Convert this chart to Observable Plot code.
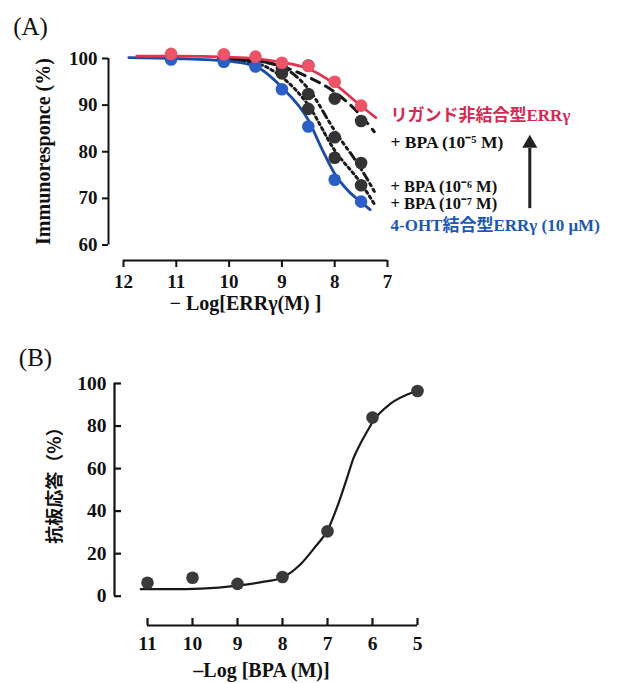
<!DOCTYPE html>
<html><head><meta charset="utf-8">
<script src="https://cdn.jsdelivr.net/npm/d3@7"></script>
<script src="https://cdn.jsdelivr.net/npm/@observablehq/plot@0.6"></script>
<style>
html,body{margin:0;padding:0;background:#fff;}
#wrap{position:relative;width:623px;height:683px;overflow:hidden;background:#fff;}
#a,#b{position:absolute;left:0;}
#a{top:0;} #b{top:330px;}
</style></head><body><div id="wrap"><div id="a"></div><div id="b"></div></div>
<script>
// ---------- Panel A data ----------
const aTicksX = [12, 11, 10, 9, 8, 7];
const aTicksY = [60, 70, 80, 90, 100];
const aDoseX = [11.1, 10.1, 9.5, 9.0, 8.5, 8.0, 7.5];
const aFreeY = [101.0, 100.9, 100.4, 99.1, 98.4, 95.0, 89.9];
const aOhtY = [99.8, 99.3, 98.3, 93.4, 85.4, 74.0, 69.3];
const aBpaX = [9.0, 8.5, 8.0, 7.5];
const aBpa5Y = [98.0, 98.5, 91.4, 86.6];
const aBpa6Y = [97.3, 92.4, 83.1, 77.6];
const aBpa7Y = [96.8, 89.2, 78.7, 72.8];
// fitted curves
const fitFreeX = [11.75, 11, 10, 9.5, 9, 8.5, 8, 7.5, 7.22];
const fitFreeY = [100.5, 100.5, 100.3, 100.0, 99.2, 97.8, 94.5, 89.8, 87.3];
const fitOhtX = [11.9, 11, 10, 9.5, 9, 8.5, 8.25, 8, 7.75, 7.5, 7.33];
const fitOhtY = [100.2, 100.0, 99.4, 98.3, 93.8, 86.8, 80.8, 75.3, 71.7, 69.2, 67.6];
const fitBpaX = [10.2, 9.5, 9, 8.5, 8, 7.5, 7.25];
const fitBpa5Y = [99.9, 99.5, 98.3, 96.0, 92.8, 87.7, 84.3];
const fitBpa6Y = [99.9, 99.5, 98.2, 93.5, 84.5, 76.3, 71.5];
const fitBpa7Y = [99.8, 99.0, 96.0, 90.0, 80.3, 73.2, 68.8];
const aLabels = ["リガンド非結合型ERRγ", "+ BPA (10⁻⁵ M)", "+ BPA (10⁻⁶ M)", "+ BPA (10⁻⁷ M)", "4-OHT結合型ERRγ (10 μM)"];
const aTitleX = "− Log[ERRγ(M) ]";
const aTitleY = "Immunoresponce (%)";

// ---------- Panel B data ----------
const bTicksX = [11, 10, 9, 8, 7, 6, 5];
const bTicksY = [0, 20, 40, 60, 80, 100];
const bDoseX = [11, 10, 9, 8, 7, 6, 5];
const bRespY = [6.3, 8.7, 5.8, 9.0, 30.5, 84.0, 96.5];
const bFitX = [11.15, 10.5, 9.8, 9, 8.5, 8, 7.6, 7.3, 7, 6.75, 6.56, 6.42, 6.25, 6.11, 5.98, 5.6, 5.1];
const bFitY = [3.3, 3.3, 3.6, 5.0, 6.5, 8.8, 15, 22.5, 31, 44, 56, 65, 72.5, 77.8, 82.5, 90.5, 95.9];
const bTitleX = "–Log [BPA (M)]";
const bTitleY = "抗板応答（%）";

const serif = '"Liberation Serif", "Times New Roman", "Noto Sans CJK JP", serif';
const zip = (xs, ys) => xs.map((x, i) => ({x, y: ys[i]}));

const RED_LINE = "#e3324f", RED_DOT = "#ee5468", RED_TEXT = "#d42a55";
const BLUE_LINE = "#1c4ba8", BLUE_DOT = "#2c5fc6", BLUE_TEXT = "#1d58b3";
const BLACK_DOT = "#333333";

const labelColors = [RED_TEXT, "#111", "#111", "#111", BLUE_TEXT];
const labelDy = [57, 83.7, 128, 145, 167];
const labelSize = [17, 17.5, 16.5, 16.5, 17];

const plotA = Plot.plot({
  width: 623, height: 330,
  marginLeft: 108, marginRight: 236, marginTop: 58, marginBottom: 70,
  style: {fontFamily: serif, background: "white", overflow: "visible", color: "#111"},
  x: {domain: [12, 7], insetLeft: 15},
  y: {domain: [60, 100], insetBottom: 15.5},
  marks: [
    Plot.ruleX([12], {y1: 60, y2: 100, dx: -15, strokeWidth: 2}),
    Plot.axisY({ticks: aTicksY, tickFormat: "d", tickSize: 6, tickPadding: 5, fontSize: 19, fontWeight: "bold", label: null, strokeWidth: 2}),
    Plot.ruleY([60], {x1: 12, x2: 7, dy: 15.5, strokeWidth: 2}),
    Plot.axisX({ticks: aTicksX, tickFormat: "d", tickSize: 7, tickPadding: 7, fontSize: 19, fontWeight: "bold", label: null, strokeWidth: 2}),
    // fits
    Plot.line(zip(fitBpaX, fitBpa5Y), {x: "x", y: "y", curve: "monotone-x", stroke: "#1a1a1a", strokeWidth: 3, strokeDasharray: "9,7"}),
    Plot.line(zip(fitBpaX, fitBpa6Y), {x: "x", y: "y", curve: "monotone-x", stroke: "#1a1a1a", strokeWidth: 3, strokeDasharray: "8,4,2.5,4,2.5,4"}),
    Plot.line(zip(fitBpaX, fitBpa7Y), {x: "x", y: "y", curve: "monotone-x", stroke: "#1a1a1a", strokeWidth: 3, strokeDasharray: "2.5,3.5"}),
    Plot.line(zip(fitOhtX, fitOhtY), {x: "x", y: "y", curve: "monotone-x", stroke: BLUE_LINE, strokeWidth: 2.8}),
    Plot.line(zip(fitFreeX, fitFreeY), {x: "x", y: "y", curve: "monotone-x", stroke: RED_LINE, strokeWidth: 2.6}),
    // points
    Plot.dot(zip(aBpaX, aBpa7Y), {x: "x", y: "y", r: 6.3, fill: BLACK_DOT}),
    Plot.dot(zip(aBpaX, aBpa6Y), {x: "x", y: "y", r: 6.3, fill: BLACK_DOT}),
    Plot.dot(zip(aBpaX, aBpa5Y), {x: "x", y: "y", r: 6.3, fill: BLACK_DOT}),
    Plot.dot(zip(aDoseX, aOhtY), {x: "x", y: "y", r: 6.3, fill: BLUE_DOT}),
    Plot.dot(zip(aDoseX, aFreeY), {x: "x", y: "y", r: 6.3, fill: RED_DOT}),
    // labels
    ...aLabels.map((t, i) => Plot.text([t], {frameAnchor: "top-right", text: d => d, textAnchor: "start", lineAnchor: "middle",
      dx: 3, dy: labelDy[i], fontSize: labelSize[i], fontWeight: "bold", fill: labelColors[i]})),
    // arrow
    Plot.ruleX([7], {y1: 67.8, y2: 80.7, dx: 142.3, strokeWidth: 3, stroke: "#222"}),
    Plot.dot([7], {x: d => d, y: () => 81.8, dx: 142.3, symbol: "triangle", r: 5.6, fill: "#222"}),
    // titles
    Plot.text([aTitleX], {frameAnchor: "bottom", text: d => d, textAnchor: "middle", lineAnchor: "middle", dx: -2.5, dy: 43, fontSize: 20, fontWeight: "bold"}),
    Plot.text([aTitleY], {frameAnchor: "left", text: d => d, rotate: -90, textAnchor: "middle", lineAnchor: "middle", dx: -65, dy: -8, fontSize: 20, fontWeight: "bold"}),
    Plot.text(["(A)"], {frameAnchor: "top-left", text: d => d, textAnchor: "middle", lineAnchor: "middle", dx: -78, dy: -32, fontSize: 25, fontWeight: "normal"})
  ]
});
document.getElementById("a").appendChild(plotA);

const plotB = Plot.plot({
  width: 623, height: 353,
  marginLeft: 114, marginRight: 206, marginTop: 53, marginBottom: 58,
  style: {fontFamily: serif, background: "white", overflow: "visible", color: "#111"},
  x: {domain: [11, 5], insetLeft: 33},
  y: {domain: [0, 100], insetBottom: 29.3},
  marks: [
    Plot.ruleX([11], {y1: 0, y2: 100, dx: -33, strokeWidth: 2.2}),
    Plot.axisY({ticks: bTicksY, tickSize: 7, dx: 7, fill: "none", label: null, strokeWidth: 2.2}),
    Plot.axisY({ticks: bTicksY, tickFormat: "d", tickSize: 0, tickPadding: 8, fontSize: 19.5, fontWeight: "bold", label: null}),
    Plot.ruleY([0], {x1: 11, x2: 5, dy: 29.3, strokeWidth: 2.2}),
    Plot.axisX({ticks: bTicksX, tickSize: 7, dy: -7, fill: "none", label: null, strokeWidth: 2.2}),
    Plot.axisX({ticks: bTicksX, tickFormat: "d", tickSize: 0, tickPadding: 11, fontSize: 19.5, fontWeight: "bold", label: null}),
    Plot.line(zip(bFitX, bFitY), {x: "x", y: "y", curve: "monotone-x", stroke: "#1a1a1a", strokeWidth: 2.2}),
    Plot.dot(zip(bDoseX, bRespY), {x: "x", y: "y", r: 6.3, fill: "#3a3a3a"}),
    Plot.text([bTitleX], {frameAnchor: "bottom", text: d => d, textAnchor: "middle", lineAnchor: "middle", dx: -4.5, dy: 45, fontSize: 20, fontWeight: "bold"}),
    Plot.text([bTitleY], {frameAnchor: "left", text: d => d, rotate: -90, textAnchor: "middle", lineAnchor: "middle", dx: -59, dy: -23.5, fontSize: 18, fontWeight: "bold",
      fontFamily: '"Noto Sans CJK JP", sans-serif'}),
    Plot.text(["(B)"], {frameAnchor: "top-left", text: d => d, textAnchor: "middle", lineAnchor: "middle", dx: -79, dy: -25.5, fontSize: 25, fontWeight: "normal"})
  ]
});
document.getElementById("b").appendChild(plotB);
</script>
</body></html>
